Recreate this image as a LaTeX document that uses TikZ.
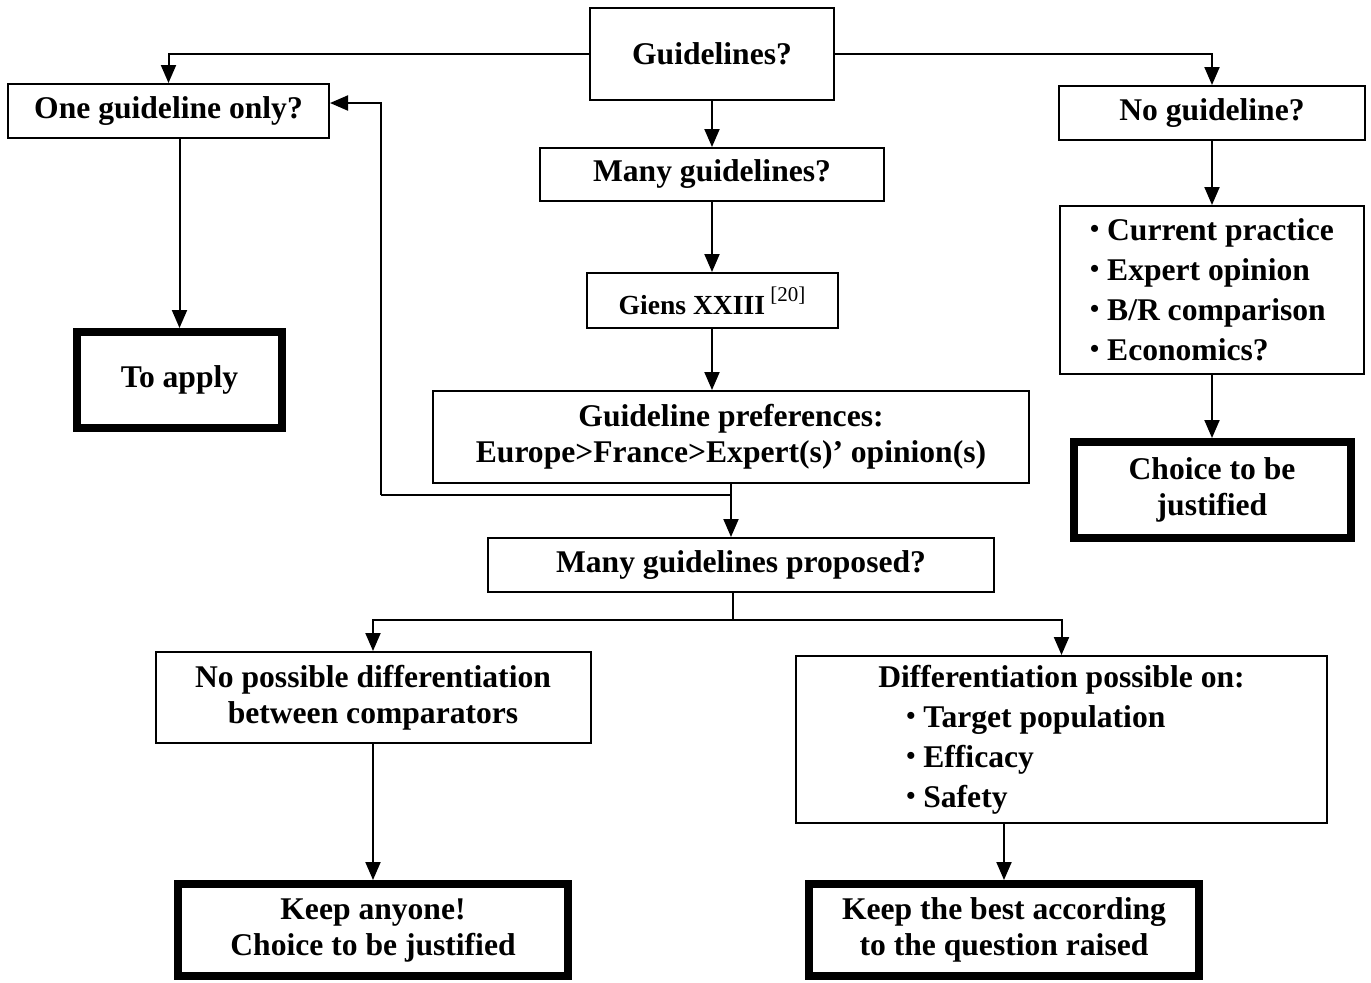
\documentclass[tikz,border=0pt]{standalone}
\usepackage{fontspec}
\setmainfont{Liberation Serif}
\usetikzlibrary{arrows.meta, positioning, calc}

\newcommand{\dotitem}{{\fontsize{13}{13}\selectfont\raisebox{1.5pt}{\textbullet}}\ }

\begin{document}
\begin{tikzpicture}[
    x=0.5pt, y=-0.5pt,
    box/.style={
        rectangle,
        draw=black,
        line width=1pt,
        align=center,
        inner sep=2pt,
        font=\fontsize{15.8}{18}\selectfont\bfseries
    },
    listbox/.style={
        box,
        align=left,
        font=\fontsize{15.8}{20}\selectfont\bfseries
    },
    endbox/.style={
        box,
        line width=4pt
    },
    arr/.style={
        line width=1pt,
        -{Triangle[length=9pt, width=7.5pt]}
    },
    link/.style={
        line width=1pt
    }
]
    \useasboundingbox (0,0) rectangle (1371,982);

    % TOP ROW Questions
    \node[box, minimum width=122pt, minimum height=46pt] (guide) at (712, 54) {Guidelines?};
    \node[box, minimum width=160.5pt, minimum height=27pt] (one) at (168.5, 111) {One guideline only?};
    \node[box, minimum width=153pt, minimum height=27pt] (noguide) at (1212, 113) {No guideline?};

    % Middle column
    \node[box, minimum width=172pt, minimum height=26.5pt] (many) at (712, 174.5) {Many guidelines?};
    \node[box, minimum width=125.5pt, minimum height=27.5pt] (giens) at (712, 300.5)
        {{\fontsize{13.8}{16}\selectfont Giens XXIII}\,\raisebox{6.5pt}{\fontsize{10.5}{12}\selectfont\mdseries[20]}};
    \node[box, minimum width=298pt, minimum height=46pt] (pref) at (731, 437)
        {Guideline preferences:\\Europe>France>Expert(s)’ opinion(s)};
    \node[box, minimum width=253pt, minimum height=27pt] (proposed) at (741, 565) {Many guidelines proposed?};

    % Left and right outcomes
    \node[endbox, minimum width=102.5pt, minimum height=48pt] (apply) at (179.5, 380) {To apply};
    \node[listbox, minimum width=152pt, minimum height=84pt] (practice) at (1212, 290)
        {\dotitem Current practice\\\dotitem Expert opinion\\\dotitem B/R comparison\\\dotitem Economics?\hspace*{0pt}};
    \node[endbox, minimum width=138.5pt, minimum height=48pt] (choice) at (1212, 490) {Choice to be\\justified};

    % BOTTOM ROW
    \node[box, minimum width=217.5pt, minimum height=45.5pt] (nodiff) at (373, 697.5)
        {No possible differentiation\\between comparators};
    \node[listbox, minimum width=265.5pt, minimum height=83.5pt] (diff) at (1061.5, 739.5)
        {Differentiation possible on:\\
         \hspace*{14pt}\dotitem Target population\\
         \hspace*{14pt}\dotitem Efficacy\\
         \hspace*{14pt}\dotitem Safety};
    \node[endbox, minimum width=195pt, minimum height=46pt] (keepany) at (373, 930)
        {Keep anyone!\\Choice to be justified};
    \node[endbox, minimum width=195pt, minimum height=46pt] (keepbest) at (1004, 930)
        {Keep the best according\\to the question raised};

    % Connectors
    \draw[arr] (guide.west) -| (one.north);
    \draw[arr] (guide.east) -| (noguide.north);
    \draw[arr] (guide.south) -- (many.north);
    \draw[arr] (many.south) -- (giens.north);
    \draw[arr] (giens.south) -- (giens.south |- pref.north);
    \draw[arr] (pref.south) -- (pref.south |- proposed.north);
    \coordinate (back) at (381, 495);
    \draw[link] (pref.south |- back) -- (back);
    \draw[arr] (back) |- ([yshift=4pt]one.east);
    \draw[arr] (apply.north |- one.south) -- (apply.north);
    \draw[arr] (noguide.south) -- (practice.north);
    \draw[arr] (practice.south) -- (choice.north);

    % Fork below proposed
    \coordinate (fork) at (733, 620);
    \draw[link] (fork |- proposed.south) -- (fork);
    \draw[arr] (fork) -| (nodiff.north);
    \draw[arr] (fork) -| (diff.north);
    \draw[arr] (nodiff.south) -- (keepany.north);
    \draw[arr] (keepbest.north |- diff.south) -- (keepbest.north);
\end{tikzpicture}
\end{document}
